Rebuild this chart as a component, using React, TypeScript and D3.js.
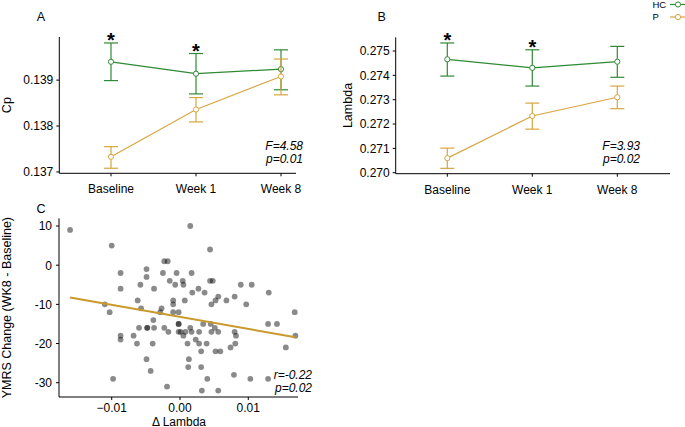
import * as d3 from "d3";

const FONT = "'Liberation Sans', Arial, Helvetica, sans-serif";
const HC_COLOR = "#2f8a34";
const P_COLOR = "#d8a53f";
const FIT_COLOR = "#c9992b";

// ---- panels A / B: group means with error bars over time ----
const timepoints = ["Baseline", "Week 1", "Week 8"];
const significant = [true, true, false];

const cpHCMean = [0.1394, 0.13914, 0.13924];
const cpHCLow = [0.13899, 0.1387, 0.13879];
const cpHCHigh = [0.13981, 0.13958, 0.13966];
const cpPMean = [0.13733, 0.13836, 0.13908];
const cpPLow = [0.13708, 0.13809, 0.13868];
const cpPHigh = [0.13755, 0.13862, 0.13946];
const cpTicks = [0.137, 0.138, 0.139];
const cpStats = ["F=4.58", "p=0.01"];

const lambdaHCMean = [0.27466, 0.27431, 0.27456];
const lambdaHCLow = [0.27397, 0.27356, 0.27392];
const lambdaHCHigh = [0.27533, 0.27505, 0.27519];
const lambdaPMean = [0.2706, 0.27233, 0.2731];
const lambdaPLow = [0.27018, 0.27179, 0.27263];
const lambdaPHigh = [0.27101, 0.27286, 0.27356];
const lambdaTicks = [0.27, 0.271, 0.272, 0.273, 0.274, 0.275];
const lambdaStats = ["F=3.93", "p=0.02"];

// ---- panel C: change in lambda vs YMRS change ----
const deltaLambda = [
  -0.0161, -0.01, 0.0015, -0.0023, -0.0018, -0.0049, -0.0087, -0.0025, -0.0005, 0.0017,
  -0.0049, -0.0058, -0.0038, -0.0087, -0.0015, -0.0007, 0.0004, 0.0005, 0.0018, 0.0027,
  0.0036, 0.0044, 0.0048, 0.0056, 0.0052, 0.0046, 0.0068, 0.008, 0.0089, 0.0105,
  0.0097, 0.013, 0.0168, -0.0062, -0.011, -0.0103, -0.0057, -0.0027, -0.0029, -0.001,
  -0.001, 0.0007, -0.001, -0.0002, 0.0044, -0.0039, -0.006, -0.0048, -0.0038, -0.0023,
  -0.0017, -0.0002, -0.0002, 0.0001, 0.0005, 0.0008, -0.0087, -0.0087, -0.0068, -0.0063,
  -0.004, 0.0011, -0.0049, 0.0013, -0.0043, 0.0012, -0.0098, -0.0019, 0.0015, 0.0017,
  0.0028, 0.0023, 0.0028, 0.0039, 0.0034, 0.0045, 0.0051, 0.0046, 0.0056, 0.008,
  0.0082, 0.0081, 0.0074, 0.0031, 0.0052, 0.0059, 0.0129, 0.0142, 0.0169, 0.0155,
  0.0031, 0.004, 0.0079, 0.0103, 0.0129, 0.0032, 0.0056, -0.0048, -0.0002,
];
const ymrsChange = [
  9, 5, 10, 1, 1, -1, -2, -2, -2, -2,
  -3, -5, -6, -6, -4, -5, -4, -5, -7, -6,
  -7, -4, -4, -8, -9, -10, -9, -8, -5, -5,
  -10, -7, -12, -9, -10, -12, -11, -11, -12, -9,
  -10, -9, -12, -12, 4, -14, -16, -16, -16, -16,
  -17, -15, -17, -17, -18, -17, -18, -19, -18, -20,
  -20, -20, -24, -24, -27, -26, -29, -31, -16, -17,
  -17, -19, -20, -20, -15, -15, -16, -17, -17, -17,
  -18, -20, -21, -22, -22, -22, -15, -15, -18, -21,
  -26, -29, -28, -29, -29, -32, -32, -16, -15,
];
const fitIntercept = -13.2;
const fitSlope = -307;
const corrStats = ["r=-0.22", "p=0.02"];

type Series = { name: string; color: string; mean: number[]; low: number[]; high: number[] };

type PanelProps = {
  label: string;
  labelX: number;
  yTitle: string;
  yTitleX: number;
  left: number;
  right: number;
  top: number;
  bottom: number;
  xRange: [number, number];
  yDomain: [number, number];
  yTicks: number[];
  series: Series[];
  stats: string[];
  statX: number;
};

function GroupPanel(p: PanelProps) {
  const x = d3.scalePoint<string>().domain(timepoints).range(p.xRange);
  const y = d3.scaleLinear().domain(p.yDomain).range([p.bottom, p.top]);
  const fmt = d3.format(".3f");
  const line = d3
    .line<number>()
    .x((_, i) => x(timepoints[i])!)
    .y((d) => y(d));
  const cap = 7;
  return (
    <g fontFamily={FONT}>
      <text x={p.labelX} y={21} fontSize={12.5} textAnchor="middle">{p.label}</text>
      <line x1={p.left} x2={p.left} y1={p.top} y2={p.bottom} stroke="#000" strokeWidth={1} />
      <line x1={p.left} x2={p.right} y1={p.bottom} y2={p.bottom} stroke="#000" strokeWidth={1} />
      {p.yTicks.map((t) => (
        <g key={t}>
          <line x1={p.left - 3} x2={p.left} y1={y(t)} y2={y(t)} stroke="#000" />
          <text x={p.left - 6} y={y(t)} dy="0.36em" fontSize={12} textAnchor="end">{fmt(t)}</text>
        </g>
      ))}
      {timepoints.map((t) => (
        <g key={t}>
          <line x1={x(t)} x2={x(t)} y1={p.bottom} y2={p.bottom + 3} stroke="#000" />
          <text x={x(t)} y={p.bottom + 20} fontSize={12} textAnchor="middle">{t}</text>
        </g>
      ))}
      <text
        transform={`translate(${p.yTitleX},${(p.top + p.bottom) / 2}) rotate(-90)`}
        dy="0.35em"
        fontSize={12.5}
        textAnchor="middle"
      >
        {p.yTitle}
      </text>
      {p.series.map((s) => (
        <g key={s.name} stroke={s.color} strokeWidth={1.2}>
          <path d={line(s.mean)!} fill="none" />
          {timepoints.map((t, i) => (
            <g key={t}>
              <line x1={x(t)} x2={x(t)} y1={y(s.low[i])} y2={y(s.high[i])} />
              <line x1={x(t)! - cap} x2={x(t)! + cap} y1={y(s.low[i])} y2={y(s.low[i])} />
              <line x1={x(t)! - cap} x2={x(t)! + cap} y1={y(s.high[i])} y2={y(s.high[i])} />
            </g>
          ))}
          {timepoints.map((t, i) => (
            <circle key={t} cx={x(t)} cy={y(s.mean[i])} r={2.6} fill="#fff" strokeWidth={1} />
          ))}
        </g>
      ))}
      {timepoints.map((t, i) =>
        significant[i] ? (
          <text key={t} x={x(t)} y={y(p.series[0].high[i]) + 4} fontSize={20} fontWeight="bold" textAnchor="middle">
            *
          </text>
        ) : null
      )}
      {p.stats.map((s, i) => (
        <text key={s} x={p.statX} y={150 + i * 13} fontSize={12} fontStyle="italic" textAnchor="end">
          {s}
        </text>
      ))}
    </g>
  );
}

function ScatterPanel() {
  const left = 59;
  const right = 298;
  const top = 218.3;
  const bottom = 397;
  const x = d3.scaleLinear().domain([-0.01772, 0.01728]).range([left, right]);
  const y = d3.scaleLinear().domain([-33.65, 11.97]).range([bottom, top]);
  const xFmt = d3.format(".2f");
  const ext = d3.extent(deltaLambda) as [number, number];
  const fit = d3
    .line<number>()
    .x((d) => x(d))
    .y((d) => y(fitIntercept + fitSlope * d));
  return (
    <g fontFamily={FONT}>
      <text x={41} y={212.5} fontSize={12.5} textAnchor="middle">C</text>
      {deltaLambda.map((d, i) => (
        <circle key={i} cx={x(d)} cy={y(ymrsChange[i])} r={2.9} fill="#000" fillOpacity={0.46} />
      ))}
      <path d={fit(ext)!} stroke={FIT_COLOR} strokeWidth={2} fill="none" />
      <line x1={left} x2={left} y1={top} y2={bottom} stroke="#000" />
      <line x1={left} x2={right} y1={bottom} y2={bottom} stroke="#000" />
      {[-30, -20, -10, 0, 10].map((t) => (
        <g key={t}>
          <line x1={left - 3} x2={left} y1={y(t)} y2={y(t)} stroke="#000" />
          <text x={left - 7} y={y(t)} dy="0.36em" fontSize={12} textAnchor="end">{t}</text>
        </g>
      ))}
      {[-0.01, 0, 0.01].map((t) => (
        <g key={t}>
          <line x1={x(t)} x2={x(t)} y1={bottom} y2={bottom + 3} stroke="#000" />
          <text x={x(t)} y={bottom + 14.5} fontSize={12} textAnchor="middle">{xFmt(t)}</text>
        </g>
      ))}
      <text
        transform={`translate(7,${(top + bottom) / 2}) rotate(-90)`}
        dy="0.35em"
        fontSize={12.5}
        textAnchor="middle"
      >
        YMRS Change (WK8 - Baseline)
      </text>
      <text x={(left + right) / 2 + 0.5} y={425.5} fontSize={12} textAnchor="middle">Δ Lambda</text>
      {corrStats.map((s, i) => (
        <text key={s} x={312} y={378.5 + i * 13.5} fontSize={12} fontStyle="italic" textAnchor="end">
          {s}
        </text>
      ))}
    </g>
  );
}

function Legend() {
  const items = [
    { name: "HC", color: HC_COLOR },
    { name: "P", color: P_COLOR },
  ];
  return (
    <g fontFamily={FONT}>
      {items.map((it, i) => (
        <g key={it.name} transform={`translate(0,${4.5 + i * 12.5})`}>
          <text x={652.5} y={0} dy="0.35em" fontSize={9.5}>{it.name}</text>
          <line x1={670} x2={687} y1={0} y2={0} stroke={it.color} strokeWidth={1.2} />
          <circle cx={678} cy={0} r={2.6} fill="#fff" stroke={it.color} strokeWidth={1} />
        </g>
      ))}
    </g>
  );
}

export default function App() {
  const cpSeries: Series[] = [
    { name: "HC", color: HC_COLOR, mean: cpHCMean, low: cpHCLow, high: cpHCHigh },
    { name: "P", color: P_COLOR, mean: cpPMean, low: cpPLow, high: cpPHigh },
  ];
  const lambdaSeries: Series[] = [
    { name: "HC", color: HC_COLOR, mean: lambdaHCMean, low: lambdaHCLow, high: lambdaHCHigh },
    { name: "P", color: P_COLOR, mean: lambdaPMean, low: lambdaPLow, high: lambdaPHigh },
  ];
  return (
    <svg
      width={685}
      height={427}
      style={{ position: "absolute", left: 0, top: 0, background: "#fff" }}
    >
      <GroupPanel
        label="A"
        labelX={41}
        yTitle="Cp"
        yTitleX={7}
        left={59.3}
        right={296}
        top={37}
        bottom={173.3}
        xRange={[111, 281]}
        yDomain={[0.13697, 0.13994]}
        yTicks={cpTicks}
        series={cpSeries}
        stats={cpStats}
        statX={303}
      />
      <GroupPanel
        label="B"
        labelX={381.7}
        yTitle="Lambda"
        yTitleX={348}
        left={395.7}
        right={670}
        top={37.3}
        bottom={173.7}
        xRange={[447.3, 617.3]}
        yDomain={[0.26996, 0.275563]}
        yTicks={lambdaTicks}
        series={lambdaSeries}
        stats={lambdaStats}
        statX={640}
      />
      <ScatterPanel />
      <Legend />
    </svg>
  );
}
